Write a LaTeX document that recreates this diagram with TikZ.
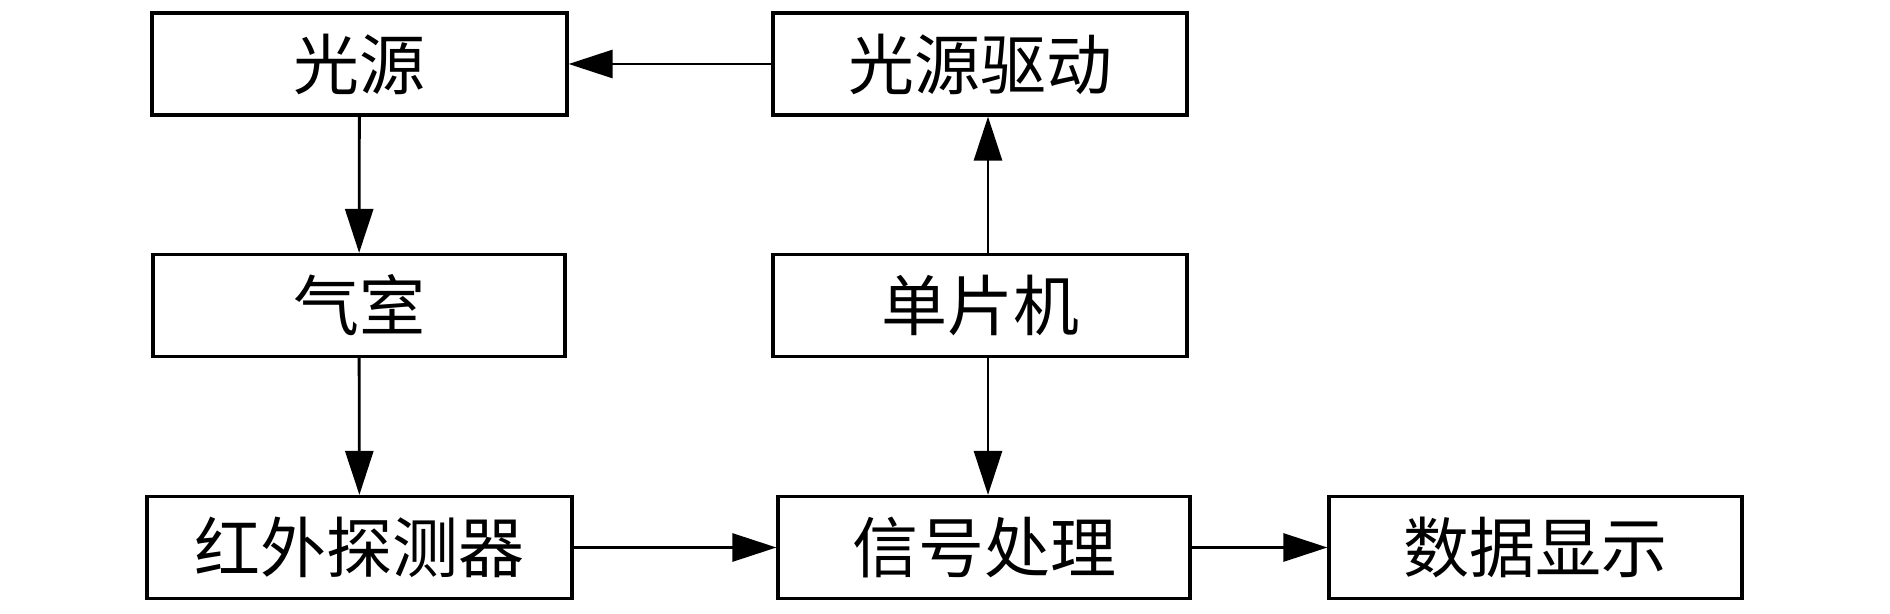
\documentclass[tikz,border=0pt]{standalone}
\usepackage{fontspec}
\newfontfamily\cjk{Noto Sans CJK SC}
\usetikzlibrary{arrows.meta}
\begin{document}
\begin{tikzpicture}[x=0.5pt,y=-0.5pt,
  box/.style={draw, line width=1.6pt, minimum height=51pt, inner sep=0pt,
    font=\cjk\fontsize{33}{33}\selectfont},
  arr/.style={-{Triangle[length=22pt,width=14pt]}, line width=1.4pt}]
\useasboundingbox (0,0) rectangle (1890,614);
\node[box, minimum width=207.5pt] (ls)   at (359.5,64)   {光源};
\node[box, minimum width=207pt]   (lsd)  at (980,64)     {光源驱动};
\node[box, minimum width=206pt]   (gas)  at (359,305.5)  {气室};
\node[box, minimum width=207pt]   (mcu)  at (980,305.5)  {单片机};
\node[box, minimum width=212.5pt] (ir)   at (359.5,547.5){红外探测器};
\node[box, minimum width=206pt]   (sig)  at (984,547.5)  {信号处理};
\node[box, minimum width=206.5pt] (disp) at (1535.5,547.5){数据显示};
\coordinate (ax) at (988,0);
\draw[arr] (lsd) -- (ls);
\draw[arr] (ls) -- (gas);
\draw[arr] (gas) -- (ir);
\draw[arr] (ir) -- (sig);
\draw[arr] (sig) -- (disp);
\draw[arr] (mcu.north -| ax) -- (lsd.south -| ax);
\draw[arr] (mcu.south -| ax) -- (sig.north -| ax);
\end{tikzpicture}
\end{document}
